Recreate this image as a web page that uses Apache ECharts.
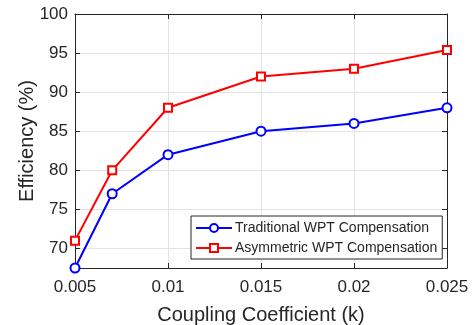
<!DOCTYPE html>
<html>
<head>
<meta charset="utf-8">
<script src="https://cdn.jsdelivr.net/npm/echarts@6/dist/echarts.min.js"></script>
<style>
  html, body { margin: 0; padding: 0; background: #fff; }
  #chart { width: 475px; height: 325px; }
</style>
</head>
<body>
<div id="chart"></div>
<script>
// coupling coefficient k
var kValues = [0.005, 0.007, 0.01, 0.015, 0.02, 0.025];
var traditional = [67.5, 77, 82, 85, 86, 88];
var asymmetric = [71, 80, 88, 92, 93, 95.4];
var xTicks = [0.005, 0.01, 0.015, 0.02, 0.025];
var yTicks = [70, 75, 80, 85, 90, 95, 100];

function pairs(xs, ys) {
  return xs.map(function (x, i) { return [x, ys[i]]; });
}

var font = 'Liberation Sans, Arial, sans-serif';
var chart = echarts.init(document.getElementById('chart'));

var xBase = {
  type: 'value', min: 0.005, max: 0.025,
  axisLine: { show: true, onZero: false, lineStyle: { color: '#262626', width: 1 } },
  axisTick: { inside: true, length: 5, customValues: xTicks, lineStyle: { color: '#262626' } },
  splitLine: { show: false }
};
var yBase = {
  type: 'value', min: 67.5, max: 100,
  axisLine: { show: true, onZero: false, lineStyle: { color: '#262626', width: 1 } },
  axisTick: { inside: true, length: 5, customValues: yTicks, lineStyle: { color: '#262626' } },
  splitLine: { show: false }
};

var option = {
  backgroundColor: '#fff',
  animation: false,
  grid: { left: 75, right: 28, top: 14, bottom: 57, containLabel: false, outerBoundsMode: 'none' },
  legend: {
    left: 191, top: 216, width: 240,
    orient: 'vertical',
    backgroundColor: '#fff',
    borderColor: '#262626', borderWidth: 1,
    padding: [5, 5, 4, 4],
    itemGap: 6,
    itemWidth: 36, itemHeight: 10,
    textStyle: { fontFamily: font, fontSize: 14, color: '#262626', padding: [0, 0, 0, -2] },
    data: ['Traditional WPT Compensation', 'Asymmetric WPT Compensation']
  },
  xAxis: [
    Object.assign({}, xBase, {
      position: 'bottom',
      name: 'Coupling Coefficient (k)', nameLocation: 'middle', nameGap: 37,
      nameMoveOverlap: false,
      nameTextStyle: { fontFamily: font, fontSize: 20, color: '#262626' },
      axisLabel: { customValues: xTicks, margin: 11, fontFamily: font, fontSize: 17, color: '#262626',
        formatter: function (v) { return String(v); } },
      splitLine: { show: true, lineStyle: { color: '#e3e3e3', width: 1 } }
    }),
    Object.assign({}, xBase, { position: 'top', axisLabel: { show: false } })
  ],
  yAxis: [
    Object.assign({}, yBase, {
      position: 'left',
      name: 'Efficiency (%)', nameLocation: 'middle', nameGap: 38,
      nameMoveOverlap: false,
      nameTextStyle: { fontFamily: font, fontSize: 20, color: '#262626' },
      axisLabel: { customValues: yTicks, margin: 7, fontFamily: font, fontSize: 17, color: '#262626' },
      splitLine: { show: true, lineStyle: { color: '#e3e3e3', width: 1 } }
    }),
    Object.assign({}, yBase, { position: 'right', axisLabel: { show: false } })
  ],
  series: [
    {
      name: 'Traditional WPT Compensation', type: 'line',
      data: pairs(kValues, traditional),
      color: '#0000ff',
      lineStyle: { width: 2, color: '#0000ff' },
      symbol: 'emptyCircle', symbolSize: 9,
      itemStyle: { color: '#0000ff', borderColor: '#0000ff', borderWidth: 2 },
      z: 3
    },
    {
      name: 'Asymmetric WPT Compensation', type: 'line',
      data: pairs(kValues, asymmetric),
      color: '#ff0000',
      lineStyle: { width: 2, color: '#ff0000' },
      symbol: 'rect', symbolSize: 8,
      itemStyle: { color: '#fff', borderColor: '#ff0000', borderWidth: 2 },
      z: 3
    }
  ]
};

chart.setOption(option);
</script>
</body>
</html>
